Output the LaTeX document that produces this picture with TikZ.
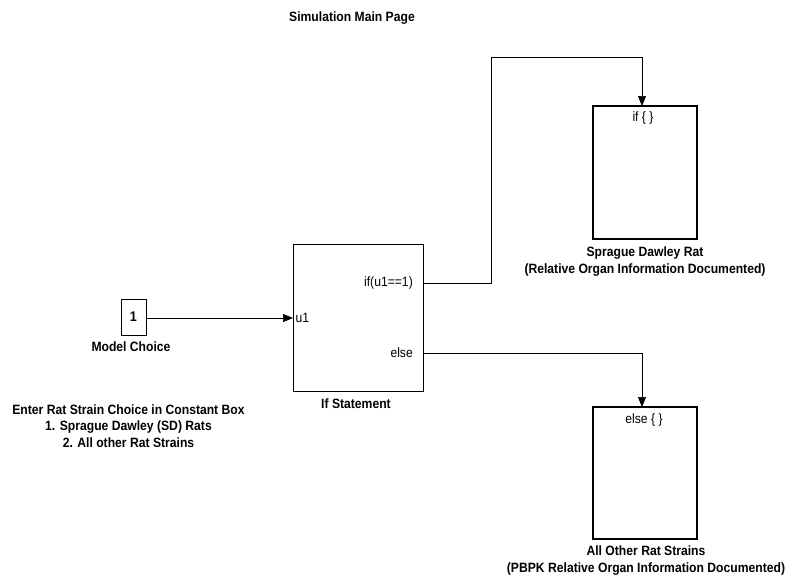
\documentclass[tikz,border=0pt]{standalone}
\usepackage{fontspec}
\setmainfont{Liberation Sans}
\newfontfamily\nar[FakeStretch=0.9]{Liberation Sans}
\usetikzlibrary{arrows.meta}
\begin{document}
\begin{tikzpicture}[x=1pt,y=-1pt,
  lbl/.style={font=\nar\fontsize{13.5}{16.5}\selectfont\bfseries, inner sep=0pt, align=center},
  port/.style={font=\nar\fontsize{13.5}{14}\selectfont, inner sep=0pt},
  blk/.style={draw, line width=0.8pt, inner sep=0pt},
  sub/.style={draw, line width=1.6pt, inner sep=0pt},
  sig/.style={line width=0.7pt, -{Triangle[length=10pt,width=8pt]}}]
\useasboundingbox (0,0) rectangle (788,582);
\fill[white] (0,0) rectangle (788,582);
\node[lbl] (title) at (352,18) {Simulation Main Page};
% constant
\node[blk, minimum width=25pt, minimum height=36pt] (const) at (133.5,317) {};
\node[lbl, font=\nar\fontsize{14}{16}\selectfont\bfseries] (one) at (const.center) {1};
\node[lbl] (mc) at (131,347) {Model Choice};
% if block
\node[blk, minimum width=130pt, minimum height=147pt] (ifb) at (358,317.5) {};
\coordinate (in1) at (293,318);
\coordinate (o1) at (423,283);
\coordinate (o2) at (423,353);
\node[port, anchor=west] (u1) at (295.5,318) {u1};
\node[port, anchor=east] (ifl) at (413,283) {if(u1==1)};
\node[port, anchor=east] (ell) at (413,353) {else};
\node[lbl] (ifs) at (356,404) {If Statement};
% subsystems
\node[sub, minimum width=104pt, minimum height=133pt] (sd) at (645,172.5) {};
\node[port] (sdin) at (643,118) {if \{ \}};
\node[lbl] (sdl) at (645,261.5) {Sprague Dawley Rat\\(Relative Organ Information Documented)};
\node[sub, minimum width=104pt, minimum height=132pt] (oth) at (645,473) {};
\node[port] (othin) at (644,420) {else \{ \}};
\node[lbl] (othl) at (646,560.5) {All Other Rat Strains\\(PBPK Relative Organ Information Documented)};
% note
\node[lbl] (note) at (128.5,426) {Enter Rat Strain Choice in Constant Box\\1. Sprague Dawley (SD) Rats\\2. All other Rat Strains};
% connectors
\draw[sig] (const.east |- in1) -- (in1);
\draw[sig] (o1) -- (491,283) -- (491,57) -- (642,57) -- (642,106);
\draw[sig] (o2) -- (642,353) -- (642,407);
\end{tikzpicture}
\end{document}
